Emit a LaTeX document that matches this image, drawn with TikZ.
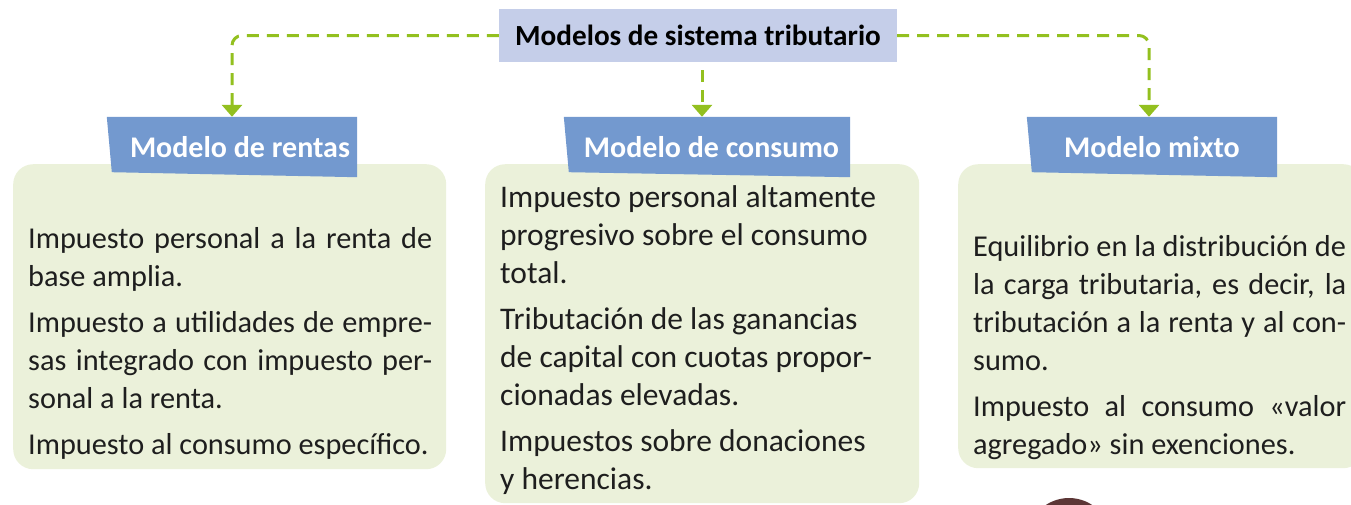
\documentclass[tikz,border=0pt]{standalone}
\usepackage{fontspec}
\setmainfont{Carlito}
\usepackage{xcolor}
\usepackage{tikz}
\usetikzlibrary{arrows.meta, positioning, calc, backgrounds}

\definecolor{titlefill}{HTML}{C5CEE9}
\definecolor{tabblue}{HTML}{7399CF}
\definecolor{panelgreen}{HTML}{EBF1DA}
\definecolor{linkgreen}{HTML}{93C01F}
\definecolor{bodyink}{HTML}{1E1E1E}
\definecolor{dotbrown}{HTML}{5C3636}

\tolerance=10000
\hbadness=10000
\newcommand{\topstrut}{\rule{0pt}{24pt}}

\tikzset{
  headbox/.style={fill=titlefill, inner sep=0pt, minimum width=398pt, minimum height=53pt,
    font=\fontsize{29.2}{34}\selectfont\bfseries},
  tabtext/.style={inner sep=0pt, minimum height=60pt, text=white,
    font=\fontsize{30}{34}\selectfont\bfseries},
  panel/.style={fill=panelgreen, rounded corners=20pt, inner sep=0pt, anchor=north west},
  bodytext/.style={inner sep=0pt, anchor=north west, text=bodyink,
    font=\fontsize{30.3}{38}\selectfont},
  link/.style={draw=linkgreen, line width=3pt, dash pattern=on 12pt off 8pt,
    rounded corners=10pt, -{Triangle[width=20pt,length=12pt]}}
}

\begin{document}
\begin{tikzpicture}[x=1pt, y=-1pt]
\useasboundingbox (0,0) rectangle (1351,504);

% title and tabs
\node[headbox] (title) at (698,35.5) {Modelos de sistema tributario};
\node[tabtext, minimum width=250pt] (tabR) at (232,147) {\hspace*{16pt}Modelo de rentas};
\node[tabtext, minimum width=286pt] (tabC) at (707,147) {\hspace*{9pt}Modelo de consumo};
\node[tabtext, minimum width=250pt] (tabM) at (1152,147) {Modelo mixto};

% green panels
\begin{scope}[on background layer]
\node[panel, minimum width=433pt, minimum height=305pt] (boxR) at (13,164) {};
\node[panel, minimum width=434pt, minimum height=339pt] (boxC) at (485,164) {};
\node[panel, minimum width=405pt, minimum height=304pt] (boxM) at (958,164) {};
\foreach \t in {tabR,tabC,tabM}
  \fill[tabblue] (\t.north west) -- (\t.north east) -- (\t.south east)
    -- ([shift={(5pt,5pt)}]\t.south west) -- cycle;
\end{scope}

% texts
\node[bodytext, text width=404pt, align=justify] (txtR) at (28,224) {%
\topstrut Impuesto personal a la renta de\linebreak base amplia.\\[8pt]
Impuesto a utilidades de empre-\linebreak sas integrado con impuesto per-\linebreak sonal a la renta.\\[8pt]
Impuesto al consumo específico.};

\node[bodytext, font=\fontsize{31.5}{38}\selectfont, text width=400pt, align=flush left] (txtC) at (500,183) {%
\topstrut Impuesto personal altamente\\
progresivo sobre el consumo\\
total.\\[8pt]
Tributación de las ganancias\\
de capital con cuotas propor-\\
cionadas elevadas.\\[8pt]
Impuestos sobre donaciones\\
y herencias.};

\node[bodytext, text width=373pt, align=justify] (txtM) at (973,232) {%
\topstrut Equilibrio en la distribución de\linebreak la carga tributaria, es decir, la\linebreak tributación a la renta y al con-\linebreak sumo.\\[8pt]
Impuesto al consumo «valor\linebreak agregado» sin exenciones.};

% links
\draw[link] (title.west) -| (tabR.north);
\draw[link, dash phase=12pt] ([xshift=4pt]title.south) -- ([xshift=-5pt]tabC.north);
\draw[link] (title.east) -| ([xshift=-3pt]tabM.north);

\fill[dotbrown] (1069,540) circle (42);
\end{tikzpicture}
\end{document}
